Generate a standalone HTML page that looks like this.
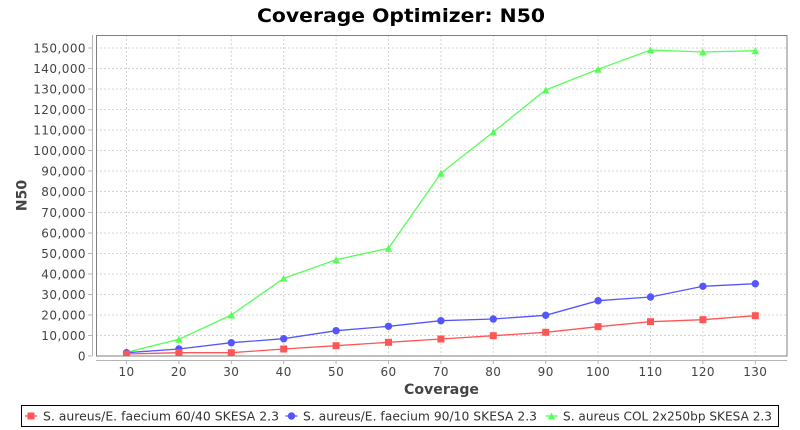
<!DOCTYPE html>
<html><head><meta charset="utf-8"><style>
html,body{margin:0;padding:0;background:#fff;}
svg{display:block;}
text{font-family:"DejaVu Sans","Liberation Sans",sans-serif;}
</style></head><body>
<svg width="800" height="430" viewBox="0 0 800 430" xmlns="http://www.w3.org/2000/svg">
<rect width="800" height="430" fill="#fff"/>
<text x="401" y="22" text-anchor="middle" font-size="19" font-weight="bold" fill="#000" textLength="288" lengthAdjust="spacingAndGlyphs">Coverage Optimizer: N50</text>
<rect x="96" y="35" width="691" height="321" fill="#fff"/>
<g stroke="#d4d4d4" stroke-width="1" stroke-dasharray="2,2" fill="none">
<line x1="96" x2="787" y1="335.5" y2="335.5"/><line x1="96" x2="787" y1="315" y2="315"/><line x1="96" x2="787" y1="294.5" y2="294.5"/><line x1="96" x2="787" y1="274" y2="274"/><line x1="96" x2="787" y1="253.5" y2="253.5"/><line x1="96" x2="787" y1="233" y2="233"/><line x1="96" x2="787" y1="212.5" y2="212.5"/><line x1="96" x2="787" y1="191.5" y2="191.5"/><line x1="96" x2="787" y1="171" y2="171"/><line x1="96" x2="787" y1="150.5" y2="150.5"/><line x1="96" x2="787" y1="130" y2="130"/><line x1="96" x2="787" y1="109.5" y2="109.5"/><line x1="96" x2="787" y1="89" y2="89"/><line x1="96" x2="787" y1="68.5" y2="68.5"/><line x1="96" x2="787" y1="48" y2="48"/>
<line y1="35" y2="356" x1="126.5" x2="126.5"/><line y1="35" y2="356" x1="178.9" x2="178.9"/><line y1="35" y2="356" x1="231.3" x2="231.3"/><line y1="35" y2="356" x1="283.7" x2="283.7"/><line y1="35" y2="356" x1="336.1" x2="336.1"/><line y1="35" y2="356" x1="388.5" x2="388.5"/><line y1="35" y2="356" x1="440.9" x2="440.9"/><line y1="35" y2="356" x1="493.3" x2="493.3"/><line y1="35" y2="356" x1="545.7" x2="545.7"/><line y1="35" y2="356" x1="598.1" x2="598.1"/><line y1="35" y2="356" x1="650.5" x2="650.5"/><line y1="35" y2="356" x1="702.9" x2="702.9"/><line y1="35" y2="356" x1="755.3" x2="755.3"/>
</g>
<defs><clipPath id="pc"><rect x="96" y="35" width="691" height="321"/></clipPath></defs>
<g clip-path="url(#pc)">
<g>
<polyline fill="none" stroke="#55ff55" stroke-width="1.3" points="126.5,352.3 178.9,339.3 231.3,315 283.7,278.3 336.1,259.7 388.5,248.3 440.9,173.3 493.3,132 545.7,90 598.1,69.3 650.5,50 702.9,52 755.3,50.7"/>
<g fill="#55ff55">
<polygon points="126.5,348.8 130.2,355.8 122.8,355.8"/><polygon points="178.9,335.8 182.6,342.8 175.2,342.8"/><polygon points="231.3,311.5 235,318.5 227.6,318.5"/><polygon points="283.7,274.8 287.4,281.8 280,281.8"/><polygon points="336.1,256.2 339.8,263.2 332.4,263.2"/><polygon points="388.5,244.8 392.2,251.8 384.8,251.8"/><polygon points="440.9,169.8 444.6,176.8 437.2,176.8"/><polygon points="493.3,128.5 497,135.5 489.6,135.5"/><polygon points="545.7,86.5 549.4,93.5 542,93.5"/><polygon points="598.1,65.8 601.8,72.8 594.4,72.8"/><polygon points="650.5,46.5 654.2,53.5 646.8,53.5"/><polygon points="702.9,48.5 706.6,55.5 699.2,55.5"/><polygon points="755.3,47.2 759,54.2 751.6,54.2"/>
</g></g>
<g>
<polyline fill="none" stroke="#5555ff" stroke-width="1.3" points="126.5,352.7 178.9,349 231.3,342.7 283.7,338.7 336.1,330.7 388.5,326.3 440.9,320.7 493.3,319 545.7,315.3 598.1,300.7 650.5,297 702.9,286.3 755.3,283.7"/>
<g fill="#5555ff">
<circle cx="126.5" cy="352.7" r="3.7"/><circle cx="178.9" cy="349" r="3.7"/><circle cx="231.3" cy="342.7" r="3.7"/><circle cx="283.7" cy="338.7" r="3.7"/><circle cx="336.1" cy="330.7" r="3.7"/><circle cx="388.5" cy="326.3" r="3.7"/><circle cx="440.9" cy="320.7" r="3.7"/><circle cx="493.3" cy="319" r="3.7"/><circle cx="545.7" cy="315.3" r="3.7"/><circle cx="598.1" cy="300.7" r="3.7"/><circle cx="650.5" cy="297" r="3.7"/><circle cx="702.9" cy="286.3" r="3.7"/><circle cx="755.3" cy="283.7" r="3.7"/>
</g></g>
<g>
<polyline fill="none" stroke="#ff5555" stroke-width="1.3" points="126.5,354 178.9,352.7 231.3,352.7 283.7,349 336.1,345.7 388.5,342.3 440.9,339 493.3,335.7 545.7,332.3 598.1,326.7 650.5,321.7 702.9,319.7 755.3,315.7"/>
<g fill="#ff5555">
<rect x="123" y="350.5" width="7" height="7"/><rect x="175.4" y="349.2" width="7" height="7"/><rect x="227.8" y="349.2" width="7" height="7"/><rect x="280.2" y="345.5" width="7" height="7"/><rect x="332.6" y="342.2" width="7" height="7"/><rect x="385" y="338.8" width="7" height="7"/><rect x="437.4" y="335.5" width="7" height="7"/><rect x="489.8" y="332.2" width="7" height="7"/><rect x="542.2" y="328.8" width="7" height="7"/><rect x="594.6" y="323.2" width="7" height="7"/><rect x="647" y="318.2" width="7" height="7"/><rect x="699.4" y="316.2" width="7" height="7"/><rect x="751.8" y="312.2" width="7" height="7"/>
</g></g>
</g>
<rect x="96.5" y="35.5" width="690.5" height="320.5" fill="none" stroke="#808080" stroke-width="1"/>
<line x1="92.5" y1="35" x2="92.5" y2="356" stroke="#b4b4b4" stroke-width="1"/>
<line x1="96" y1="360.5" x2="787" y2="360.5" stroke="#b4b4b4" stroke-width="1"/>
<g stroke="#b4b4b4" stroke-width="1">
<line x1="88" x2="92" y1="356" y2="356"/><line x1="88" x2="92" y1="335.5" y2="335.5"/><line x1="88" x2="92" y1="315" y2="315"/><line x1="88" x2="92" y1="294.5" y2="294.5"/><line x1="88" x2="92" y1="274" y2="274"/><line x1="88" x2="92" y1="253.5" y2="253.5"/><line x1="88" x2="92" y1="233" y2="233"/><line x1="88" x2="92" y1="212.5" y2="212.5"/><line x1="88" x2="92" y1="191.5" y2="191.5"/><line x1="88" x2="92" y1="171" y2="171"/><line x1="88" x2="92" y1="150.5" y2="150.5"/><line x1="88" x2="92" y1="130" y2="130"/><line x1="88" x2="92" y1="109.5" y2="109.5"/><line x1="88" x2="92" y1="89" y2="89"/><line x1="88" x2="92" y1="68.5" y2="68.5"/><line x1="88" x2="92" y1="48" y2="48"/>
<line y1="361" y2="364" x1="126.5" x2="126.5"/><line y1="361" y2="364" x1="178.9" x2="178.9"/><line y1="361" y2="364" x1="231.3" x2="231.3"/><line y1="361" y2="364" x1="283.7" x2="283.7"/><line y1="361" y2="364" x1="336.1" x2="336.1"/><line y1="361" y2="364" x1="388.5" x2="388.5"/><line y1="361" y2="364" x1="440.9" x2="440.9"/><line y1="361" y2="364" x1="493.3" x2="493.3"/><line y1="361" y2="364" x1="545.7" x2="545.7"/><line y1="361" y2="364" x1="598.1" x2="598.1"/><line y1="361" y2="364" x1="650.5" x2="650.5"/><line y1="361" y2="364" x1="702.9" x2="702.9"/><line y1="361" y2="364" x1="755.3" x2="755.3"/>
</g>
<g font-size="12" fill="#444" text-anchor="end" letter-spacing="0.45">
<text x="86" y="360.5">0</text><text x="86" y="340">10,000</text><text x="86" y="319.5">20,000</text><text x="86" y="299">30,000</text><text x="86" y="278.5">40,000</text><text x="86" y="258">50,000</text><text x="86" y="237.5">60,000</text><text x="86" y="217">70,000</text><text x="86" y="196">80,000</text><text x="86" y="175.5">90,000</text><text x="86" y="155">100,000</text><text x="86" y="134.5">110,000</text><text x="86" y="114">120,000</text><text x="86" y="93.5">130,000</text><text x="86" y="73">140,000</text><text x="86" y="52.5">150,000</text>
</g>
<g font-size="12" fill="#444" text-anchor="middle" letter-spacing="0.4">
<text x="126.5" y="376">10</text><text x="178.9" y="376">20</text><text x="231.3" y="376">30</text><text x="283.7" y="376">40</text><text x="336.1" y="376">50</text><text x="388.5" y="376">60</text><text x="440.9" y="376">70</text><text x="493.3" y="376">80</text><text x="545.7" y="376">90</text><text x="598.1" y="376">100</text><text x="650.5" y="376">110</text><text x="702.9" y="376">120</text><text x="755.3" y="376">130</text>
</g>
<text x="441.5" y="394" text-anchor="middle" font-size="14" font-weight="bold" fill="#444" textLength="75" lengthAdjust="spacingAndGlyphs">Coverage</text>
<text transform="translate(26.5,195.5) rotate(-90)" x="0" y="0" text-anchor="middle" font-size="14" font-weight="bold" fill="#444">N50</text>
<rect x="21.5" y="405.5" width="757" height="21" fill="#fff" stroke="#000" stroke-width="1"/>
<g font-size="12" fill="#333">
<line x1="25" y1="416" x2="37" y2="416" stroke="#ff5555" stroke-width="1.3"/>
<rect x="27.5" y="412.5" width="7" height="7" fill="#ff5555"/>
<text x="43" y="420.5" textLength="236" lengthAdjust="spacingAndGlyphs">S. aureus/E. faecium 60/40 SKESA 2.3</text>
<line x1="285.5" y1="416" x2="297.5" y2="416" stroke="#5555ff" stroke-width="1.3"/>
<circle cx="291.5" cy="416" r="3.7" fill="#5555ff"/>
<text x="303" y="420.5" textLength="234" lengthAdjust="spacingAndGlyphs">S. aureus/E. faecium 90/10 SKESA 2.3</text>
<line x1="545.5" y1="416" x2="557.5" y2="416" stroke="#55ff55" stroke-width="1.3"/>
<polygon points="551.5,412.5 555.2,419.5 547.8,419.5" fill="#55ff55"/>
<text x="563" y="420.5" textLength="209" lengthAdjust="spacingAndGlyphs">S. aureus COL 2x250bp SKESA 2.3</text>
</g>
</svg>
</body></html>
